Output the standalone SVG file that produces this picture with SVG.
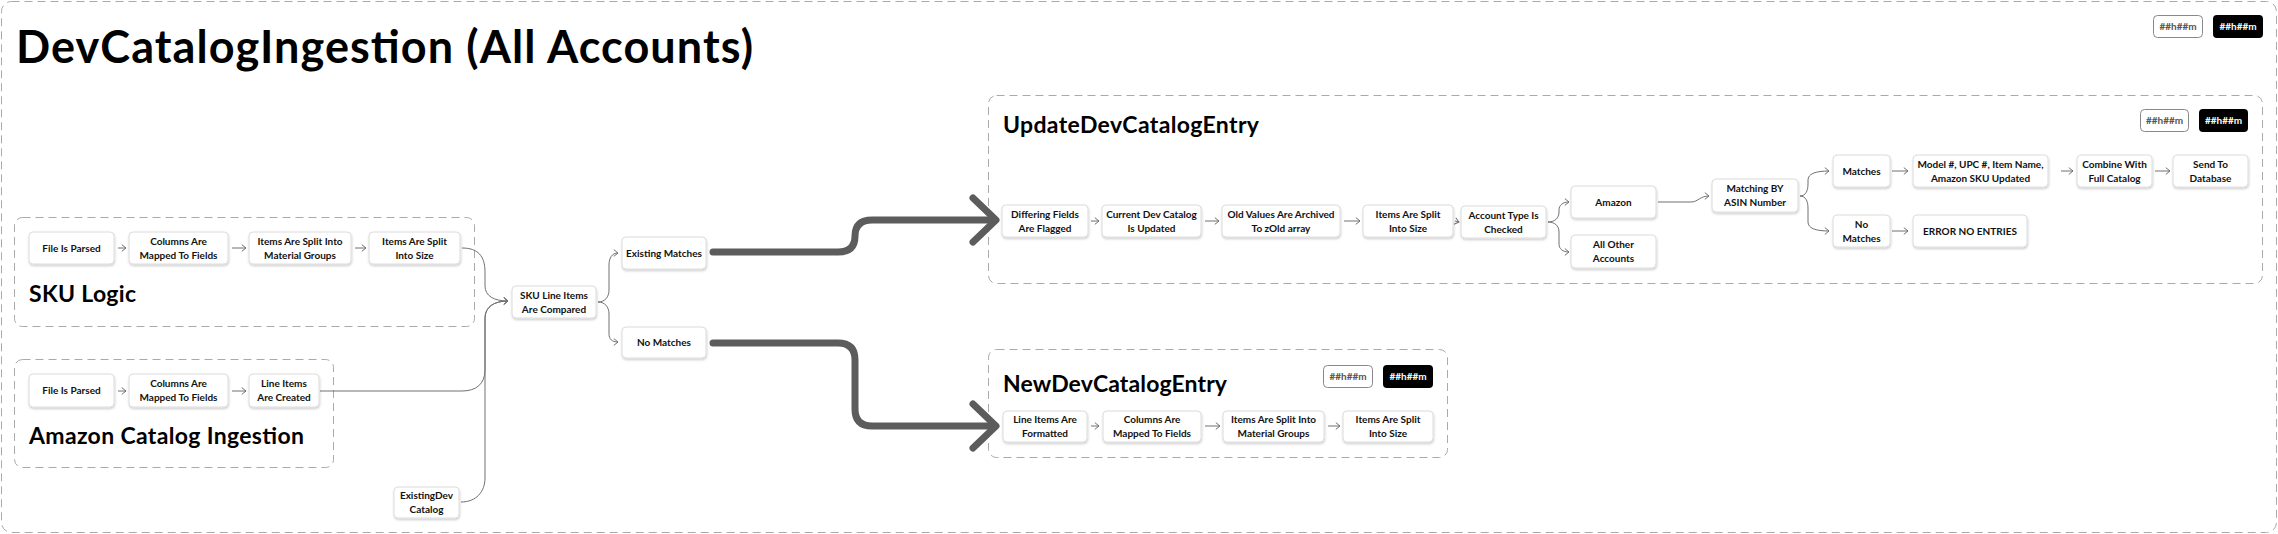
<svg xmlns="http://www.w3.org/2000/svg" width="2278" height="534" viewBox="0 0 2278 534">
<style>
.frame{fill:none;stroke:#aaaaaa;stroke-width:1;stroke-dasharray:8 5}
.outer{fill:#ffffff;stroke:#aaaaaa;stroke-width:1;stroke-dasharray:8 5}
.box{fill:#ffffff;stroke:#dcdcdc;stroke-width:1;filter:url(#sh)}
.t{font-family:Lato,'Liberation Sans',sans-serif;font-weight:700;font-size:10px;fill:#111;text-anchor:middle}
.h1{font-family:Lato,'Liberation Sans',sans-serif;font-weight:700;font-size:45px;fill:#000}
.h2{font-family:Lato,'Liberation Sans',sans-serif;font-weight:700;font-size:23px;fill:#000}
.bw{fill:#ffffff;stroke:#888;stroke-width:1}
.bb{fill:#000000}
.btw{font-family:Lato,'Liberation Sans',sans-serif;font-weight:700;font-size:10px;fill:#555;text-anchor:middle}
.btb{font-family:Lato,'Liberation Sans',sans-serif;font-weight:700;font-size:10px;fill:#fff;text-anchor:middle}
.c{fill:none;stroke:#707070;stroke-width:1;marker-end:url(#ah)}
.thick{fill:none;stroke:#5b5c5b;stroke-width:7;stroke-linecap:round;stroke-linejoin:round}
</style>
<defs>
<filter id="sh" x="-20%" y="-30%" width="140%" height="170%">
<feDropShadow dx="0.5" dy="1.5" stdDeviation="1.2" flood-color="#000" flood-opacity="0.2"/>
</filter>
<marker id="ah" markerUnits="userSpaceOnUse" markerWidth="8" markerHeight="9" refX="5" refY="4" orient="auto">
<path d="M0.8,0.6 L5,4 L0.8,7.4" fill="none" stroke="#707070" stroke-width="1"/>
</marker>
</defs>

<rect class="outer" x="1.5" y="1.5" width="2275" height="531" rx="10"/>
<text class="h1" x="16" y="63" textLength="737" lengthAdjust="spacing">DevCatalogIngestion (All Accounts)</text>
<g id="badges-top">
<rect class="bw" x="2153.5" y="15.5" width="49" height="22" rx="4"/>
<text class="btw" x="2178" y="30">##h##m</text>
<rect class="bb" x="2213" y="15" width="50" height="23" rx="4"/>
<text class="btb" x="2238" y="30">##h##m</text>
</g>

<g id="grp-sku">
<rect class="frame" x="14.5" y="217.5" width="460" height="109" rx="8"/>
<text class="h2" x="29" y="302" textLength="107" lengthAdjust="spacing">SKU Logic</text>
</g>
<g id="grp-amazon">
<rect class="frame" x="14.5" y="359.5" width="319" height="108" rx="8"/>
<text class="h2" x="29" y="444" textLength="275" lengthAdjust="spacing">Amazon Catalog Ingestion</text>
</g>
<g id="grp-update">
<rect class="frame" x="988.5" y="95.5" width="1274" height="188" rx="8"/>
<text class="h2" x="1003" y="133" textLength="256" lengthAdjust="spacing">UpdateDevCatalogEntry</text>
<rect class="bw" x="2140.5" y="109.5" width="48" height="22" rx="4"/>
<text class="btw" x="2164.5" y="124">##h##m</text>
<rect class="bb" x="2199" y="109" width="49" height="23" rx="4"/>
<text class="btb" x="2223.5" y="124">##h##m</text>
</g>
<g id="grp-new">
<rect class="frame" x="988.5" y="349.5" width="459" height="108" rx="8"/>
<text class="h2" x="1003" y="392" textLength="224" lengthAdjust="spacing">NewDevCatalogEntry</text>
<rect class="bw" x="1323.5" y="365.5" width="49" height="22" rx="4"/>
<text class="btw" x="1348" y="380">##h##m</text>
<rect class="bb" x="1383" y="365" width="50" height="23" rx="4"/>
<text class="btb" x="1408" y="380">##h##m</text>
</g>

<g id="connectors">
<path class="c" d="M118,248 L126,248"/>
<path class="c" d="M232,248 L246,248"/>
<path class="c" d="M355,248 L366,248"/>
<path class="c" d="M118,391 L126,391"/>
<path class="c" d="M232,391 L246,391"/>
<path class="c" d="M462,248 C478,248 485,256 485,272 L485,286 C485,296 494,301 508,301"/>
<path class="c" d="M320,391 L462,391 C476,391 485,384 485,370 L485,318 C485,307 494,301 508,301"/>
<path class="c" d="M461,502 C476,502 485,492 485,478 L485,318 C485,307 494,301 508,301"/>
<path class="c" d="M598,302 C605,302 609,297 609,290 L609,265 C609,258 612,253 618,253"/>
<path class="c" d="M598,302 C605,302 609,307 609,314 L609,334 C609,339 612,342 618,342"/>
<path class="thick" d="M713,252 L838,252 Q855,252 855,236 Q855,220 872,220 L994,220"/>
<path class="thick" d="M973,198 L996,220 L973,242"/>
<path class="thick" d="M713,343 L838,343 Q855,343 855,360 L855,409 Q855,426 872,426 L994,426"/>
<path class="thick" d="M973,404 L996,426 L973,448"/>
<path class="c" d="M1091,221 L1099,221"/>
<path class="c" d="M1205,221 L1219,221"/>
<path class="c" d="M1344,221 L1360,221"/>
<path class="c" d="M1455,221 L1459,222"/>
<path class="c" d="M1548,222 C1555,222 1559,218 1559,212 L1559,210 C1559,205 1563,202 1569,202"/>
<path class="c" d="M1548,222 C1555,222 1559,226 1559,232 L1559,244 C1559,249 1563,252 1569,252"/>
<path class="c" d="M1658,202 L1691,202 C1698,202 1700,196 1709,196"/>
<path class="c" d="M1800,196 C1806,196 1808,190 1808,184 L1808,180 C1808,174 1815,171 1829,171"/>
<path class="c" d="M1800,196 C1806,196 1808,202 1808,208 L1808,222 C1808,228 1815,231 1829,231"/>
<path class="c" d="M1892,171 L1908,171"/>
<path class="c" d="M1892,231 L1908,231"/>
<path class="c" d="M2061,171 L2073,171"/>
<path class="c" d="M2155,171 L2170,171"/>
<path class="c" d="M1091,426 L1099,426"/>
<path class="c" d="M1205,426 L1220,426"/>
<path class="c" d="M1328,426 L1340,426"/>
</g>

<g id="n-sku-parse"><rect class="box" x="29" y="232" width="85" height="32" rx="4"/><text class="t" x="71.5" y="251.5">File Is Parsed</text></g>
<g id="n-sku-map"><rect class="box" x="129" y="232" width="99" height="32" rx="4"/><text class="t" x="178.5" y="244.5">Columns Are</text><text class="t" x="178.5" y="258.5">Mapped To Fields</text></g>
<g id="n-sku-material"><rect class="box" x="249" y="232" width="102" height="32" rx="4"/><text class="t" x="300" y="244.5">Items Are Split Into</text><text class="t" x="300" y="258.5">Material Groups</text></g>
<g id="n-sku-size"><rect class="box" x="369" y="232" width="91" height="32" rx="4"/><text class="t" x="414.5" y="244.5">Items Are Split</text><text class="t" x="414.5" y="258.5">Into Size</text></g>

<g id="n-amz-parse"><rect class="box" x="29" y="374" width="85" height="33" rx="4"/><text class="t" x="71.5" y="394">File Is Parsed</text></g>
<g id="n-amz-map"><rect class="box" x="129" y="374" width="99" height="33" rx="4"/><text class="t" x="178.5" y="387">Columns Are</text><text class="t" x="178.5" y="401">Mapped To Fields</text></g>
<g id="n-amz-lines"><rect class="box" x="249" y="374" width="70" height="33" rx="4"/><text class="t" x="284" y="387">Line Items</text><text class="t" x="284" y="401">Are Created</text></g>

<g id="n-existingdev"><rect class="box" x="394" y="487" width="65" height="31" rx="4"/><text class="t" x="426.5" y="499">ExistingDev</text><text class="t" x="426.5" y="513">Catalog</text></g>
<g id="n-compared"><rect class="box" x="512" y="286" width="84" height="32" rx="4"/><text class="t" x="554" y="298.5">SKU Line Items</text><text class="t" x="554" y="312.5">Are Compared</text></g>
<g id="n-existing"><rect class="box" x="622" y="237" width="84" height="32" rx="4"/><text class="t" x="664" y="256.5">Existing Matches</text></g>
<g id="n-nomatch"><rect class="box" x="622" y="327" width="84" height="31" rx="4"/><text class="t" x="664" y="346">No Matches</text></g>

<g id="n-up-flag"><rect class="box" x="1002" y="205" width="86" height="32" rx="4"/><text class="t" x="1045" y="217.5">Differing Fields</text><text class="t" x="1045" y="231.5">Are Flagged</text></g>
<g id="n-up-current"><rect class="box" x="1102" y="205" width="99" height="32" rx="4"/><text class="t" x="1151.5" y="217.5">Current Dev Catalog</text><text class="t" x="1151.5" y="231.5">Is Updated</text></g>
<g id="n-up-archive"><rect class="box" x="1222" y="205" width="118" height="32" rx="4"/><text class="t" x="1281" y="217.5">Old Values Are Archived</text><text class="t" x="1281" y="231.5">To zOld array</text></g>
<g id="n-up-size"><rect class="box" x="1363" y="205" width="90" height="32" rx="4"/><text class="t" x="1408" y="217.5">Items Are Split</text><text class="t" x="1408" y="231.5">Into Size</text></g>
<g id="n-up-account"><rect class="box" x="1461" y="206" width="85" height="32" rx="4"/><text class="t" x="1503.5" y="218.5">Account Type Is</text><text class="t" x="1503.5" y="232.5">Checked</text></g>
<g id="n-up-amazon"><rect class="box" x="1571" y="186" width="85" height="32" rx="4"/><text class="t" x="1613.5" y="205.5">Amazon</text></g>
<g id="n-up-other"><rect class="box" x="1571" y="235" width="85" height="33" rx="4"/><text class="t" x="1613.5" y="248">All Other</text><text class="t" x="1613.5" y="262">Accounts</text></g>
<g id="n-up-asin"><rect class="box" x="1712" y="179" width="86" height="33" rx="4"/><text class="t" x="1755" y="192">Matching BY</text><text class="t" x="1755" y="206">ASIN Number</text></g>
<g id="n-up-matches"><rect class="box" x="1833" y="155" width="57" height="32" rx="4"/><text class="t" x="1861.5" y="174.5">Matches</text></g>
<g id="n-up-nomatches"><rect class="box" x="1833" y="215" width="57" height="32" rx="4"/><text class="t" x="1861.5" y="227.5">No</text><text class="t" x="1861.5" y="241.5">Matches</text></g>
<g id="n-up-model"><rect class="box" x="1913" y="155" width="135" height="32" rx="4"/><text class="t" x="1980.5" y="167.5">Model #, UPC #, Item Name,</text><text class="t" x="1980.5" y="181.5">Amazon SKU Updated</text></g>
<g id="n-up-error"><rect class="box" x="1913" y="215" width="114" height="32" rx="4"/><text class="t" x="1970" y="234.5">ERROR NO ENTRIES</text></g>
<g id="n-up-combine"><rect class="box" x="2077" y="155" width="75" height="32" rx="4"/><text class="t" x="2114.5" y="167.5">Combine With</text><text class="t" x="2114.5" y="181.5">Full Catalog</text></g>
<g id="n-up-send"><rect class="box" x="2173" y="155" width="75" height="32" rx="4"/><text class="t" x="2210.5" y="167.5">Send To</text><text class="t" x="2210.5" y="181.5">Database</text></g>

<g id="n-new-format"><rect class="box" x="1003" y="411" width="84" height="31" rx="4"/><text class="t" x="1045" y="423">Line Items Are</text><text class="t" x="1045" y="437">Formatted</text></g>
<g id="n-new-map"><rect class="box" x="1103" y="411" width="98" height="31" rx="4"/><text class="t" x="1152" y="423">Columns Are</text><text class="t" x="1152" y="437">Mapped To Fields</text></g>
<g id="n-new-material"><rect class="box" x="1223" y="411" width="101" height="31" rx="4"/><text class="t" x="1273.5" y="423">Items Are Split Into</text><text class="t" x="1273.5" y="437">Material Groups</text></g>
<g id="n-new-size"><rect class="box" x="1343" y="411" width="90" height="31" rx="4"/><text class="t" x="1388" y="423">Items Are Split</text><text class="t" x="1388" y="437">Into Size</text></g>
</svg>
